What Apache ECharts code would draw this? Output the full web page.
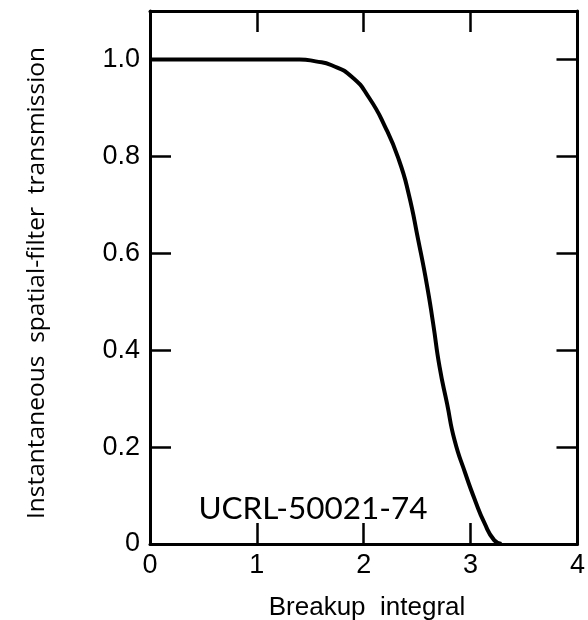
<!DOCTYPE html>
<html>
<head>
<meta charset="utf-8">
<script src="https://cdn.jsdelivr.net/npm/echarts@6/dist/echarts.min.js"></script>
<style>
  html, body { margin: 0; padding: 0; background: #fff; }
  #chart { width: 588px; height: 620px; }
</style>
</head>
<body>
<div id="chart"></div>
<script>
// Breakup integral (x) vs instantaneous spatial-filter transmission (y)
var breakupIntegral = [0, 0.5, 1.0, 1.4, 1.55, 1.7, 1.89, 2.05, 2.2, 2.33, 2.42, 2.51, 2.59, 2.65, 2.71, 2.78, 2.85, 2.95, 3.04, 3.13, 3.22, 3.29];
var transmission    = [1, 1, 1, 1, 0.996, 0.988, 0.964, 0.921, 0.861, 0.792, 0.723, 0.627, 0.536, 0.454, 0.365, 0.289, 0.214, 0.146, 0.091, 0.043, 0.008, 0.0];

var xTickLabels = ['0', '1', '2', '3', '4'];
var yTickValues = [0, 0.2, 0.4, 0.6, 0.8, 1.0];
var yTickLabels = ['0', '0.2', '0.4', '0.6', '0.8', '1.0'];

var xTitle = 'Breakup  integral';
var yTitle = 'Instantaneous  spatial-filter  transmission';
var reportId = 'UCRL-50021-74';

var points = breakupIntegral.map(function (x, i) { return [x, transmission[i]]; });

function axisLine() { return { show: true, onZero: false, lineStyle: { color: '#000', width: 3 } }; }
function tick() { return { show: true, inside: true, length: 21, lineStyle: { color: '#000', width: 2.5 } }; }
var labelFont = { color: '#000', fontFamily: 'Liberation Sans', fontSize: 27 };

function yLabel(v) {
  for (var i = 0; i < yTickValues.length; i++) {
    if (Math.abs(yTickValues[i] - v) < 1e-6) return yTickLabels[i];
  }
  return '';
}
function xLabel(v) {
  var i = Math.round(v);
  return Math.abs(i - v) < 1e-6 && xTickLabels[i] !== undefined ? xTickLabels[i] : '';
}

var chart = echarts.init(document.getElementById('chart'), null, { renderer: 'canvas' });
chart.setOption({
  animation: false,
  backgroundColor: '#fff',
  grid: { left: 150, right: 7, top: 11, bottom: 76, containLabel: false },
  xAxis: [
    {
      type: 'value', position: 'bottom', min: 0, max: 4, interval: 1,
      axisLine: axisLine(), axisTick: tick(), splitLine: { show: false },
      axisLabel: Object.assign({ margin: 8, formatter: xLabel }, labelFont)
    },
    {
      type: 'value', position: 'top', min: 0, max: 4, interval: 1,
      axisLine: axisLine(), axisTick: tick(), splitLine: { show: false },
      axisLabel: { show: false }
    }
  ],
  yAxis: [
    {
      type: 'value', position: 'left', min: 0, max: 1.1, interval: 0.2,
      axisLine: axisLine(), axisTick: tick(), splitLine: { show: false },
      axisLabel: Object.assign({ margin: 10, formatter: yLabel, showMaxLabel: false }, labelFont)
    },
    {
      type: 'value', position: 'right', min: 0, max: 1.1, interval: 0.2,
      axisLine: axisLine(), axisTick: tick(), splitLine: { show: false },
      axisLabel: { show: false }
    }
  ],
  series: [
    {
      type: 'line',
      data: points,
      smooth: 0.55,
      showSymbol: false,
      lineStyle: { color: '#000', width: 4 },
      clip: false
    }
  ],
  graphic: [
    {
      type: 'text', x: 367, y: 608,
      style: { text: xTitle, fill: '#000', font: '26px "Liberation Sans"', textAlign: 'center', textVerticalAlign: 'middle' }
    },
    {
      type: 'text', x: 37, y: 283, rotation: Math.PI / 2,
      style: { text: yTitle, fill: '#000', font: '24.5px "Open Sans"', textAlign: 'center', textVerticalAlign: 'middle' }
    },
    {
      type: 'text', x: 313, y: 509,
      style: { text: reportId, fill: '#000', font: '31.5px Lato', textAlign: 'center', textVerticalAlign: 'middle' }
    }
  ]
});
</script>
</body>
</html>
